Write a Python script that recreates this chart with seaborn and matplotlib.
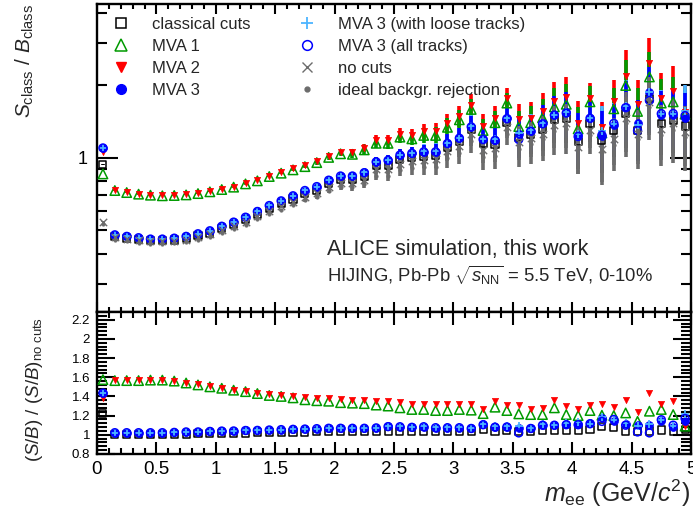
import matplotlib
matplotlib.use("Agg")
import matplotlib.pyplot as plt
import numpy as np
import pandas as pd
import seaborn as sns
from matplotlib.lines import Line2D
from matplotlib.ticker import FixedLocator, FixedFormatter, NullFormatter, MultipleLocator

# invariant-mass bin centres (GeV/c^2)
mass = [0.05, 0.15, 0.25, 0.35, 0.45, 0.55, 0.65, 0.75, 0.85, 0.95,
        1.05, 1.15, 1.25, 1.35, 1.45, 1.55, 1.65, 1.75, 1.85, 1.95,
        2.05, 2.15, 2.25, 2.35, 2.45, 2.55, 2.65, 2.75, 2.85, 2.95,
        3.05, 3.15, 3.25, 3.35, 3.45, 3.55, 3.65, 3.75, 3.85, 3.95,
        4.05, 4.15, 4.25, 4.35, 4.45, 4.55, 4.65, 4.75, 4.85, 4.95]

# S/B per class
sb_classical = [0.940, 0.470, 0.463, 0.458, 0.452, 0.452, 0.456, 0.462, 0.475, 0.487,
                0.507, 0.528, 0.553, 0.584, 0.617, 0.644, 0.675, 0.710, 0.735, 0.780,
                0.812, 0.813, 0.841, 0.929, 0.932, 0.982, 1.004, 1.015, 1.023, 1.110,
                1.166, 1.307, 1.145, 1.139, 1.401, 1.214, 1.254, 1.317, 1.439, 1.457,
                1.166, 1.389, 1.183, 1.296, 1.529, 1.298, 1.768, 1.386, 1.432, 1.357]
sb_mva1 = [0.858, 0.732, 0.718, 0.707, 0.700, 0.696, 0.698, 0.702, 0.711, 0.723,
           0.739, 0.756, 0.780, 0.803, 0.837, 0.864, 0.892, 0.920, 0.956, 1.005,
           1.040, 1.035, 1.080, 1.150, 1.150, 1.220, 1.200, 1.240, 1.240, 1.340,
           1.440, 1.590, 1.300, 1.400, 1.690, 1.350, 1.400, 1.470, 1.630, 1.670,
           1.320, 1.710, 1.270, 1.600, 2.000, 1.560, 2.170, 1.690, 1.710, 1.520]
sb_mva2 = [1.060, 0.736, 0.722, 0.711, 0.703, 0.700, 0.702, 0.706, 0.715, 0.727,
           0.743, 0.760, 0.784, 0.810, 0.845, 0.875, 0.905, 0.935, 0.970, 1.020,
           1.055, 1.055, 1.100, 1.190, 1.190, 1.260, 1.250, 1.290, 1.290, 1.390,
           1.500, 1.660, 1.360, 1.470, 1.770, 1.450, 1.460, 1.560, 1.730, 1.790,
           1.400, 1.770, 1.350, 1.720, 2.200, 1.680, 2.470, 1.780, 1.900, 1.550]
sb_mva3 = [1.100, 0.479, 0.472, 0.466, 0.460, 0.460, 0.464, 0.472, 0.484, 0.498,
           0.519, 0.541, 0.567, 0.599, 0.634, 0.663, 0.696, 0.732, 0.760, 0.810,
           0.842, 0.842, 0.870, 0.965, 0.981, 1.030, 1.046, 1.062, 1.062, 1.150,
           1.210, 1.350, 1.200, 1.190, 1.460, 1.260, 1.290, 1.390, 1.510, 1.550,
           1.250, 1.470, 1.230, 1.370, 1.630, 1.390, 1.880, 1.510, 1.510, 1.460]
sb_mva3_loose = [1.100, 0.480, 0.473, 0.467, 0.461, 0.461, 0.465, 0.472, 0.485, 0.498,
                 0.520, 0.542, 0.568, 0.601, 0.635, 0.664, 0.696, 0.734, 0.760, 0.811,
                 0.844, 0.843, 0.872, 0.966, 0.983, 1.031, 1.049, 1.066, 1.064, 1.155,
                 1.215, 1.354, 1.204, 1.194, 1.463, 1.275, 1.301, 1.399, 1.507, 1.557,
                 1.254, 1.461, 1.297, 1.380, 1.646, 1.373, 1.887, 1.518, 1.515, 1.562]
sb_mva3_all = [1.100, 0.479, 0.472, 0.466, 0.460, 0.460, 0.464, 0.472, 0.484, 0.498,
               0.520, 0.541, 0.567, 0.599, 0.634, 0.663, 0.696, 0.732, 0.760, 0.808,
               0.841, 0.841, 0.868, 0.963, 0.977, 1.028, 1.045, 1.060, 1.060, 1.148,
               1.208, 1.346, 1.193, 1.183, 1.455, 1.193, 1.290, 1.386, 1.507, 1.536,
               1.227, 1.461, 1.243, 1.392, 1.617, 1.298, 1.734, 1.527, 1.529, 1.498]
sb_nocuts = [0.544, 0.469, 0.462, 0.456, 0.450, 0.450, 0.453, 0.458, 0.470, 0.481,
             0.500, 0.520, 0.543, 0.573, 0.604, 0.629, 0.658, 0.691, 0.714, 0.757,
             0.787, 0.787, 0.813, 0.898, 0.900, 0.948, 0.969, 0.978, 0.987, 1.069,
             1.125, 1.263, 1.080, 1.095, 1.345, 1.170, 1.210, 1.260, 1.370, 1.390,
             1.110, 1.310, 1.090, 1.200, 1.470, 1.260, 1.700, 1.320, 1.390, 1.280]
sb_ideal = [0.530, 0.458, 0.451, 0.445, 0.439, 0.439, 0.442, 0.447, 0.458, 0.469,
            0.487, 0.506, 0.528, 0.556, 0.586, 0.609, 0.636, 0.667, 0.688, 0.728,
            0.756, 0.754, 0.777, 0.845, 0.845, 0.890, 0.905, 0.915, 0.920, 1.000,
            1.050, 1.180, 1.010, 1.020, 1.260, 1.090, 1.140, 1.200, 1.290, 1.320,
            1.110, 1.240, 1.060, 1.130, 1.400, 1.200, 1.620, 1.250, 1.300, 1.220]

# relative statistical uncertainty of S/B per bin
rel_err = [0.004, 0.004, 0.004, 0.004, 0.004, 0.004, 0.004, 0.004, 0.004, 0.004,
           0.006, 0.006, 0.006, 0.006, 0.006, 0.010, 0.012, 0.015, 0.018, 0.020,
           0.025, 0.030, 0.035, 0.045, 0.050, 0.055, 0.060, 0.070, 0.080, 0.090,
           0.100, 0.110, 0.120, 0.120, 0.100, 0.160, 0.170, 0.190, 0.200, 0.210,
           0.230, 0.160, 0.270, 0.220, 0.280, 0.250, 0.270, 0.260, 0.270, 0.280]

# (S/B) / (S/B)_no cuts
ratio_classical = [1.220, 1.003, 1.003, 1.004, 1.004, 1.005, 1.006, 1.008, 1.010, 1.012,
                   1.014, 1.016, 1.018, 1.020, 1.022, 1.024, 1.026, 1.028, 1.030, 1.031,
                   1.032, 1.033, 1.034, 1.035, 1.036, 1.036, 1.036, 1.038, 1.036, 1.038,
                   1.036, 1.035, 1.060, 1.040, 1.042, 1.038, 1.036, 1.045, 1.050, 1.048,
                   1.050, 1.060, 1.085, 1.080, 1.040, 1.030, 1.040, 1.050, 1.030, 1.060]
ratio_mva1 = [1.575, 1.565, 1.565, 1.565, 1.570, 1.570, 1.560, 1.540, 1.520, 1.500,
              1.485, 1.465, 1.450, 1.430, 1.410, 1.400, 1.385, 1.365, 1.355, 1.350,
              1.335, 1.330, 1.325, 1.310, 1.300, 1.281, 1.264, 1.264, 1.253, 1.253,
              1.264, 1.257, 1.221, 1.288, 1.253, 1.218, 1.211, 1.211, 1.281, 1.211,
              1.200, 1.253, 1.204, 1.200, 1.228, 1.140, 1.246, 1.264, 1.211, 1.090]
ratio_mva2 = [1.381, 1.570, 1.570, 1.570, 1.575, 1.575, 1.565, 1.545, 1.525, 1.505,
              1.490, 1.470, 1.455, 1.440, 1.425, 1.410, 1.400, 1.390, 1.385, 1.380,
              1.370, 1.365, 1.360, 1.355, 1.350, 1.345, 1.316, 1.316, 1.316, 1.316,
              1.323, 1.323, 1.270, 1.352, 1.310, 1.310, 1.264, 1.281, 1.359, 1.300,
              1.274, 1.306, 1.316, 1.292, 1.359, 1.235, 1.434, 1.323, 1.352, 1.090]
ratio_mva3 = [1.435, 1.022, 1.022, 1.022, 1.022, 1.022, 1.025, 1.030, 1.030, 1.035,
              1.039, 1.040, 1.045, 1.046, 1.050, 1.054, 1.057, 1.060, 1.064, 1.070,
              1.070, 1.070, 1.070, 1.074, 1.090, 1.086, 1.080, 1.086, 1.076, 1.076,
              1.076, 1.069, 1.112, 1.086, 1.086, 1.076, 1.069, 1.104, 1.104, 1.112,
              1.112, 1.122, 1.180, 1.143, 1.112, 1.100, 1.104, 1.140, 1.086, 1.140]
ratio_mva3_loose = [1.435, 1.024, 1.024, 1.024, 1.024, 1.024, 1.027, 1.031, 1.032, 1.036,
                    1.040, 1.042, 1.046, 1.048, 1.051, 1.055, 1.058, 1.062, 1.065, 1.071,
                    1.072, 1.071, 1.072, 1.076, 1.092, 1.088, 1.083, 1.090, 1.078, 1.080,
                    1.080, 1.072, 1.115, 1.090, 1.088, 1.090, 1.075, 1.110, 1.100, 1.120,
                    1.130, 1.115, 1.190, 1.150, 1.120, 1.090, 1.110, 1.150, 1.090, 1.220]
ratio_mva3_all = [1.435, 1.022, 1.022, 1.022, 1.022, 1.022, 1.025, 1.030, 1.030, 1.035,
                  1.039, 1.040, 1.045, 1.046, 1.050, 1.054, 1.057, 1.060, 1.064, 1.068,
                  1.068, 1.068, 1.068, 1.072, 1.085, 1.084, 1.078, 1.084, 1.074, 1.074,
                  1.074, 1.066, 1.105, 1.080, 1.082, 1.020, 1.066, 1.100, 1.100, 1.105,
                  1.105, 1.115, 1.140, 1.160, 1.100, 1.030, 1.020, 1.157, 1.100, 1.170]

labels = ["classical cuts", "MVA 1", "MVA 2", "MVA 3", "MVA 3 (with loose tracks)",
          "MVA 3 (all tracks)", "no cuts", "ideal backgr. rejection"]

GREEN = "#009a00"
RED = "#ff0000"
BLUE = "#0000ff"
LBLUE = "#4cb4ff"
GREY = "#6c6c6c"

# marker style per class: marker, face, edge, scatter size, legend size
styles = {
    "classical cuts": dict(marker="s", fc="none", ec="black", s=26, lw=1.1, ms=6.5),
    "MVA 1": dict(marker="^", fc="none", ec=GREEN, s=46, lw=1.1, ms=8),
    "MVA 2": dict(marker="v", fc=RED, ec=RED, s=20, lw=0.5, ms=7),
    "MVA 3": dict(marker="o", fc=BLUE, ec=BLUE, s=32, lw=0.5, ms=7),
    "MVA 3 (with loose tracks)": dict(marker="+", fc=LBLUE, ec=LBLUE, s=34, lw=1.3, ms=8),
    "MVA 3 (all tracks)": dict(marker="o", fc="none", ec=BLUE, s=32, lw=1.1, ms=7),
    "no cuts": dict(marker="x", fc=GREY, ec=GREY, s=28, lw=1.0, ms=7),
    "ideal backgr. rejection": dict(marker="o", fc=GREY, ec=GREY, s=7, lw=0.3, ms=3.5),
}
bar_colors = {"classical cuts": "black", "MVA 1": GREEN, "MVA 2": RED, "MVA 3": BLUE,
              "MVA 3 (with loose tracks)": LBLUE, "MVA 3 (all tracks)": BLUE,
              "no cuts": GREY, "ideal backgr. rejection": GREY}
bar_z = {"MVA 2": 2.0, "MVA 1": 2.1, "classical cuts": 2.2, "MVA 3 (all tracks)": 2.3,
         "MVA 3 (with loose tracks)": 2.35, "MVA 3": 2.4, "no cuts": 2.5,
         "ideal backgr. rejection": 2.6}

top_values = [sb_classical, sb_mva1, sb_mva2, sb_mva3, sb_mva3_loose, sb_mva3_all,
              sb_nocuts, sb_ideal]
ratio_values = [ratio_classical, ratio_mva1, ratio_mva2, ratio_mva3, ratio_mva3_loose,
                ratio_mva3_all]

top_df = pd.concat([pd.DataFrame({"mass": mass, "sb": v, "rel": rel_err, "cls": lab})
                    for lab, v in zip(labels, top_values)], ignore_index=True)
ratio_df = pd.concat([pd.DataFrame({"mass": mass, "r": v, "cls": lab})
                      for lab, v in zip(labels[:6], ratio_values)], ignore_index=True)

sns.set_theme(style="ticks")
plt.rcParams.update({
    "font.family": ["Liberation Sans", "DejaVu Sans"],
    "mathtext.fontset": "custom",
    "mathtext.rm": "Liberation Sans",
    "mathtext.it": "Liberation Sans:italic",
    "mathtext.bf": "Liberation Sans:bold",
    "axes.linewidth": 1.7,
    "axes.edgecolor": "black",
    "xtick.color": "black",
    "ytick.color": "black",
})

W, H = 693, 513
fig = plt.figure(figsize=(W / 100, H / 100), dpi=100)
fig.patch.set_facecolor("white")

def box(x0, y0, x1, y1):
    return [x0 / W, 1 - y1 / H, (x1 - x0) / W, (y1 - y0) / H]

ax1 = fig.add_axes(box(97, 4, 691, 312))
ax2 = fig.add_axes(box(97, 312, 691, 454))

def draw_markers(ax, data, ycol, lab, i):
    st = styles[lab]
    kw = dict(marker=st["marker"], s=st["s"], linewidth=st["lw"], zorder=3 + 0.1 * i,
              ax=ax, legend=False)
    if st["marker"] in ("+", "x"):
        sns.scatterplot(data=data, x="mass", y=ycol, color=st["ec"], **kw)
    else:
        sns.scatterplot(data=data, x="mass", y=ycol, facecolor=st["fc"],
                        edgecolor=st["ec"], **kw)

# upper panel: S/B with uncertainties
for lab in labels:
    d = top_df[top_df.cls == lab]
    ax1.errorbar(d.mass, d.sb, yerr=d.sb * d.rel, fmt="none", ecolor=bar_colors[lab],
                 elinewidth=2.6, capsize=0, zorder=bar_z[lab])
for i, lab in enumerate(labels):
    draw_markers(ax1, top_df[top_df.cls == lab], "sb", lab, i)

ax1.set_yscale("log")
ax1.set_xlim(0, 5)
ax1.set_ylim(0.229, 4.36)
ax1.yaxis.set_major_locator(FixedLocator([1.0]))
ax1.yaxis.set_major_formatter(FixedFormatter(["1"]))
ax1.yaxis.set_minor_locator(FixedLocator([0.3, 0.4, 0.5, 0.6, 0.7, 0.8, 0.9, 2, 3, 4]))
ax1.yaxis.set_minor_formatter(NullFormatter())
ax1.xaxis.set_major_locator(MultipleLocator(0.5))
ax1.xaxis.set_minor_locator(MultipleLocator(0.1))
ax1.tick_params(axis="x", which="both", labelbottom=False)
ax1.tick_params(which="both", direction="in", top=True, right=True, width=1.5)
ax1.tick_params(axis="x", which="major", length=7)
ax1.tick_params(axis="x", which="minor", length=3.5)
ax1.tick_params(axis="y", which="major", length=15, pad=7, labelsize=13)
ax1.tick_params(axis="y", which="minor", length=7.5)
ax1.set_xlabel("")
ax1.set_ylabel("")

# lower panel: ratio to no cuts
for i, lab in enumerate(labels[:6]):
    draw_markers(ax2, ratio_df[ratio_df.cls == lab], "r", lab, i)

ax2.set_xlim(0, 5)
ax2.set_ylim(0.8, 2.28)
ax2.yaxis.set_major_locator(FixedLocator([0.8, 1.0, 1.2, 1.4, 1.6, 1.8, 2.0, 2.2]))
ax2.yaxis.set_major_formatter(FixedFormatter(["0.8", "1", "1.2", "1.4", "1.6", "1.8", "2", "2.2"]))
ax2.yaxis.set_minor_locator(MultipleLocator(0.04))
ax2.xaxis.set_major_locator(FixedLocator([0, 0.5, 1, 1.5, 2, 2.5, 3, 3.5, 4, 4.5, 5]))
ax2.xaxis.set_major_formatter(FixedFormatter(["0", "0.5", "1", "1.5", "2", "2.5", "3",
                                              "3.5", "4", "4.5", "5"]))
ax2.xaxis.set_minor_locator(MultipleLocator(0.1))
ax2.tick_params(which="both", direction="in", top=True, right=True, width=1.5)
ax2.tick_params(axis="x", which="major", length=9, pad=5, labelsize=13.5)
ax2.tick_params(axis="x", which="minor", length=4.5)
ax2.tick_params(axis="y", which="major", length=13, pad=5, labelsize=9.5)
ax2.tick_params(axis="y", which="minor", length=7)
ax2.set_xlabel("")
ax2.set_ylabel("")

# axis titles
fig.text(25 / W, 1 - 4 / H, r"$S_{\rm class}$ / $B_{\rm class}$", rotation=90,
         ha="center", va="top", fontsize=15)
fig.text(35 / W, 1 - 317 / H, r"($S$/$B$) / ($S$/$B$)$_{\rm no\ cuts}$", rotation=90,
         ha="center", va="top", fontsize=13.5)
fig.text(690 / W, 1 - 502 / H, r"$m_{\rm ee}$ (GeV/$c^{2}$)", ha="right", va="baseline",
         fontsize=18)

# annotations
fig.text(327 / W, 1 - 255 / H, "ALICE simulation, this work", ha="left", va="baseline",
         fontsize=15.5)
fig.text(327 / W, 1 - 282 / H, r"HIJING, Pb-Pb $\sqrt{s_{\rm NN}}$ = 5.5 TeV, 0-10%",
         ha="left", va="baseline", fontsize=13.3)

# legend
handles = []
for lab in labels:
    st = styles[lab]
    if st["marker"] in ("+", "x"):
        h = Line2D([], [], ls="none", marker=st["marker"], color=st["ec"], ms=st["ms"],
                   mew=st["lw"])
    else:
        h = Line2D([], [], ls="none", marker=st["marker"], mfc=st["fc"], mec=st["ec"],
                   ms=st["ms"], mew=max(st["lw"], 1.0))
    handles.append(h)
leg = ax1.legend(handles=handles, labels=labels, ncol=2, loc="upper left",
                 bbox_to_anchor=(113 / W, 1 - 17 / H), bbox_transform=fig.transFigure,
                 frameon=False, fontsize=12, handlelength=1.0, handletextpad=1.35,
                 columnspacing=2.9, labelspacing=0.42, borderpad=0, borderaxespad=0)

fig.savefig("out.png", dpi=100, facecolor="white")
